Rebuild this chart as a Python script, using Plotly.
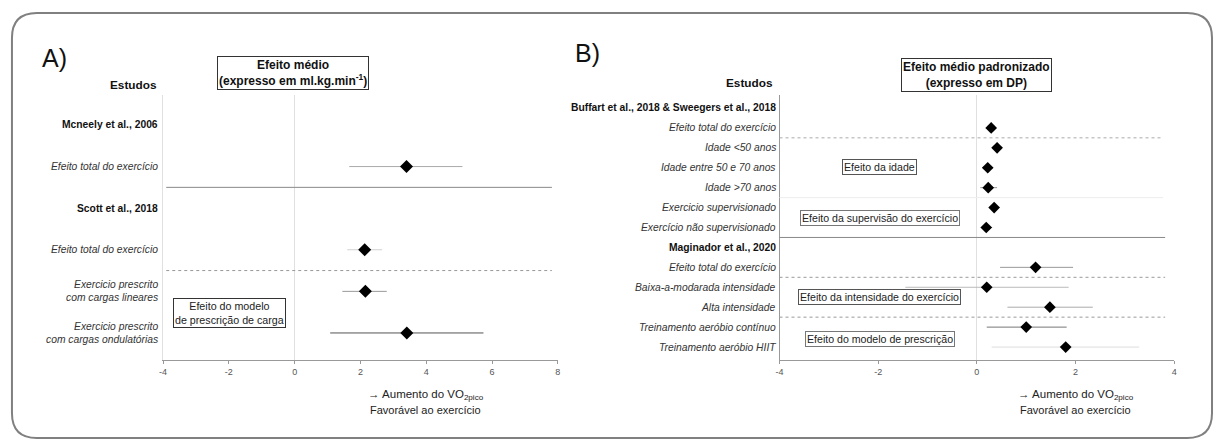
import plotly.graph_objects as go

W, H = 1217, 440
FONT = "Liberation Sans, Arial, sans-serif"

# ---------------- Panel A data ----------------
a_labels = [
    "<b>Mcneely et al., 2006</b>",
    "<i>Efeito total do exercício</i>",
    "<b>Scott et al., 2018</b>",
    "<i>Efeito total do exercício</i>",
    "<i>Exercicio prescrito<br>com cargas lineares</i>",
    "<i>Exercicio prescrito<br>com cargas ondulatórias</i>",
]
a_rows = [1, 3, 4, 5]
a_est = [3.40, 2.13, 2.15, 3.41]
a_lo = [1.66, 1.60, 1.45, 1.08]
a_hi = [5.10, 2.66, 2.80, 5.74]
a_xticks = [-4, -2, 0, 2, 4, 6, 8]

# ---------------- Panel B data ----------------
b_labels = [
    "<b>Buffart et al., 2018 & Sweegers et al., 2018</b>",
    "<i>Efeito total do exercício</i>",
    "<i>Idade <50 anos</i>",
    "<i>Idade entre 50 e 70 anos</i>",
    "<i>Idade >70 anos</i>",
    "<i>Exercicio supervisionado</i>",
    "<i>Exercício não supervisionado</i>",
    "<b>Maginador et al., 2020</b>",
    "<i>Efeito total do exercício</i>",
    "<i>Baixa-a-modarada intensidade</i>",
    "<i>Alta intensidade</i>",
    "<i>Treinamento aeróbio contínuo</i>",
    "<i>Treinamento aeróbio HIIT</i>",
]
b_rows = [1, 2, 3, 4, 5, 6, 8, 9, 10, 11, 12]
b_est = [0.29, 0.41, 0.22, 0.23, 0.35, 0.19, 1.19, 0.20, 1.48, 1.00, 1.80]
b_lo = [0.22, 0.33, 0.15, 0.07, 0.27, 0.09, 0.47, -1.45, 0.62, 0.20, 0.30]
b_hi = [0.37, 0.50, 0.30, 0.41, 0.43, 0.31, 1.95, 1.86, 2.35, 1.82, 3.29]
b_xticks = [-4, -2, 0, 2, 4]

# style of CI lines (per estimate)
a_ci_colors = ["#aaaaaa", "#d0d0d0", "#999999", "#555555"]
b_ci_colors = ["#dddddd", "#cccccc", "#dddddd", "#999999", "#dddddd", "#888888",
               "#999999", "#bbbbbb", "#aaaaaa", "#777777", "#dddddd"]


def px(x):
    return x / W


def py(y):
    return 1 - y / H


fig = go.Figure()

# CI lines
for r, lo, hi, c in zip(a_rows, a_lo, a_hi, a_ci_colors):
    fig.add_trace(go.Scatter(x=[lo, hi], y=[r, r], mode="lines",
                             line=dict(color=c, width=1), xaxis="x", yaxis="y",
                             showlegend=False, hoverinfo="skip"))
for r, lo, hi, c in zip(b_rows, b_lo, b_hi, b_ci_colors):
    fig.add_trace(go.Scatter(x=[lo, hi], y=[r, r], mode="lines",
                             line=dict(color=c, width=1), xaxis="x2", yaxis="y2",
                             showlegend=False, hoverinfo="skip"))
# point estimates
fig.add_trace(go.Scatter(x=a_est, y=a_rows, mode="markers", xaxis="x", yaxis="y",
                         marker=dict(symbol="diamond", size=10, color="black"),
                         showlegend=False))
fig.add_trace(go.Scatter(x=b_est, y=b_rows, mode="markers", xaxis="x2", yaxis="y2",
                         marker=dict(symbol="diamond", size=9, color="black"),
                         showlegend=False))

ydom = [py(360), py(95)]
xaxis_common = dict(showgrid=False, zeroline=True, zerolinecolor="#e0e0e0", zerolinewidth=1,
                    showline=True, linecolor="#999999", linewidth=1,
                    ticks="outside", ticklen=3, tickcolor="#999999",
                    tickfont=dict(family=FONT, size=9, color="#555555"),
                    fixedrange=True)
fig.update_layout(
    width=W, height=H, margin=dict(l=0, r=0, t=0, b=0),
    paper_bgcolor="white", plot_bgcolor="white",
    xaxis=dict(domain=[px(160), px(557)], range=[-4, 8], tickvals=a_xticks,
               ticktext=[str(v) for v in a_xticks], anchor="y", **xaxis_common),
    yaxis=dict(domain=ydom, range=[5.65, -0.72], showticklabels=False, showgrid=False,
               zeroline=False, showline=True, linecolor="#e0e0e0", anchor="x"),
    xaxis2=dict(domain=[px(780), px(1177)], range=[-4, 4], tickvals=b_xticks,
                ticktext=[str(v) for v in b_xticks], anchor="y2", **xaxis_common),
    yaxis2=dict(domain=ydom, range=[12.65, -0.65], showticklabels=False, showgrid=False,
                zeroline=False, showline=True, linecolor="#999999", anchor="x2"),
)

shapes = []
# rounded outer border
r = 25
x0, x1, y0, y1 = 8, 1215, 13, 438
path = (f"M {px(x0 + r)},{py(y0)} L {px(x1 - r)},{py(y0)} "
        f"Q {px(x1)},{py(y0)} {px(x1)},{py(y0 + r)} "
        f"L {px(x1)},{py(y1 - r)} Q {px(x1)},{py(y1)} {px(x1 - r)},{py(y1)} "
        f"L {px(x0 + r)},{py(y1)} Q {px(x0)},{py(y1)} {px(x0)},{py(y1 - r)} "
        f"L {px(x0)},{py(y0 + r)} Q {px(x0)},{py(y0)} {px(x0 + r)},{py(y0)} Z")
shapes.append(dict(type="path", xref="paper", yref="paper", path=path,
                   line=dict(color="#808080", width=2)))

# separators panel A
shapes.append(dict(type="line", xref="x domain", yref="y", x0=0.008, x1=0.985, y0=1.5, y1=1.5,
                   line=dict(color="#888888", width=1)))
shapes.append(dict(type="line", xref="x domain", yref="y", x0=0.008, x1=0.985, y0=3.5, y1=3.5,
                   line=dict(color="#999999", width=1, dash="dot")))
# separators panel B
shapes.append(dict(type="line", xref="x2 domain", yref="y2", x0=0, x1=0.972, y0=1.5, y1=1.5,
                   line=dict(color="#aaaaaa", width=1, dash="dot")))
shapes.append(dict(type="line", xref="x2 domain", yref="y2", x0=0, x1=0.972, y0=4.5, y1=4.5,
                   line=dict(color="#eeeeee", width=1)))
shapes.append(dict(type="line", xref="x2 domain", yref="y2", x0=0, x1=0.977, y0=6.5, y1=6.5,
                   line=dict(color="#888888", width=1)))
shapes.append(dict(type="line", xref="x2 domain", yref="y2", x0=0, x1=0.977, y0=8.5, y1=8.5,
                   line=dict(color="#999999", width=1, dash="dot")))
shapes.append(dict(type="line", xref="x2 domain", yref="y2", x0=0, x1=0.977, y0=10.5, y1=10.5,
                   line=dict(color="#999999", width=1, dash="dot")))

annotations = []
LAB = 10.3
# row labels
for i, lab in enumerate(a_labels):
    bold = lab.startswith("<b>")
    annotations.append(dict(text=lab, xref="x domain", yref="y", x=-0.008, y=i,
                            xanchor="right", yanchor="middle", align="right", showarrow=False,
                            font=dict(family=FONT, size=LAB,
                                      color="#111111" if bold else "#333333")))
for i, lab in enumerate(b_labels):
    bold = lab.startswith("<b>")
    annotations.append(dict(text=lab, xref="x2 domain", yref="y2", x=-0.005, y=i,
                            xanchor="right", yanchor="middle", align="right", showarrow=False,
                            font=dict(family=FONT, size=LAB,
                                      color="#111111" if bold else "#333333")))


def txt(text, x, y, size, color="#111111", **kw):
    d = dict(text=text, xref="paper", yref="paper", x=px(x), y=py(y), xanchor="center",
             yanchor="middle", showarrow=False, font=dict(family=FONT, size=size, color=color))
    d.update(kw)
    annotations.append(d)


# panel letters
txt("A)", 51, 58, 25)
txt("B)", 587, 53, 25)
# Estudos
txt("<b>Estudos</b>", 130, 85, 11.8)
txt("<b>Estudos</b>", 750, 83, 11.8)
# title boxes
txt("<b>Efeito médio</b><br><b>(expresso em ml.kg.min<sup>-1</sup>)</b>", 291, 73.5, 12,
    bordercolor="#333333", borderwidth=1, borderpad=1, bgcolor="white")
txt("<b>Efeito médio padronizado</b><br><b>(expresso em DP)</b>", 978.5, 75, 12,
    bordercolor="#333333", borderwidth=1, borderpad=1, bgcolor="white")
# group boxes
txt("Efeito do modelo<br>de prescrição de carga", 227, 313, 10.7, color="#222222",
    bordercolor="#333333", borderwidth=1, borderpad=1, bgcolor="white")
txt("Efeito da idade", 881, 167, 10.6, color="#222222",
    bordercolor="#555555", borderwidth=1, borderpad=1, bgcolor="white")
txt("Efeito da supervisão do exercício", 881, 217.5, 10.6, color="#222222",
    bordercolor="#777777", borderwidth=1, borderpad=1, bgcolor="white")
txt("Efeito da intensidade do exercício", 881, 297, 10.6, color="#222222",
    bordercolor="#555555", borderwidth=1, borderpad=1, bgcolor="white")
txt("Efeito do modelo de prescrição", 881, 339, 10.6, color="#222222",
    bordercolor="#777777", borderwidth=1, borderpad=1, bgcolor="white")
# axis titles
for cx in (424, 1078):
    txt("→ Aumento do VO<sub>2pico</sub>", cx, 395, 11.5, color="#222222")
    txt("Favorável ao exercício", cx, 410, 11, color="#222222")

fig.update_layout(shapes=shapes, annotations=annotations)
fig.write_html("out.html", config={"displayModeBar": False},
               post_script="document.body.style.margin='0px';document.body.style.overflow='hidden';")
